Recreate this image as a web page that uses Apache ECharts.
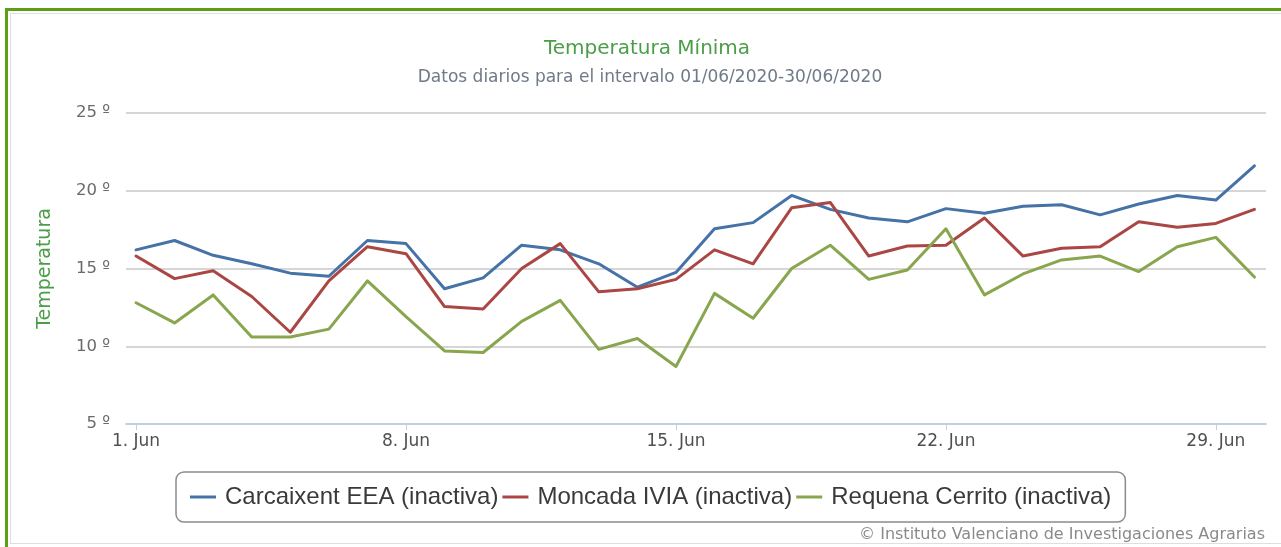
<!DOCTYPE html>
<html>
<head>
<meta charset="utf-8">
<title>Temperatura Mínima</title>
<script src="https://cdn.jsdelivr.net/npm/echarts@6/dist/echarts.min.js"></script>
<style>
    html, body { margin: 0; padding: 0; background: #fff; overflow: hidden; }
    #marco { position: absolute; left: 5px; top: 8px; width: 1320px; height: 600px;
             border-left: 3px solid #5f9e1c; border-top: 3px solid #5f9e1c; }
    #interior { position: absolute; left: 2px; top: 2px; width: 1320px; height: 529px;
                border: 1px solid #dedede; }
    #grafico { position: absolute; left: 0; top: 0; width: 1281px; height: 547px; }
</style>
</head>
<body>
<div id="marco"><div id="interior"></div></div>
<div id="grafico"></div>
<script>
// Dias del mes (junio 2020)
var dias = [1, 2, 3, 4, 5, 6, 7, 8, 9, 10, 11, 12, 13, 14, 15,
            16, 17, 18, 19, 20, 21, 22, 23, 24, 25, 26, 27, 28, 29, 30];
var diasEtiqueta = [1, 8, 15, 22, 29];
var mes = 'Jun';

var estaciones = ['Carcaixent EEA (inactiva)', 'Moncada IVIA (inactiva)', 'Requena Cerrito (inactiva)'];

// Temperatura minima diaria (ºC)
var carcaixent = [16.2, 16.8, 15.85, 15.3, 14.7, 14.5, 16.8, 16.6, 13.7, 14.4, 16.5, 16.2, 15.3, 13.8, 14.75,
                  17.55, 17.95, 19.7, 18.8, 18.25, 18.0, 18.85, 18.55, 19.0, 19.1, 18.45, 19.15, 19.7, 19.4, 21.6];
var moncada    = [15.8, 14.35, 14.85, 13.2, 10.9, 14.2, 16.4, 15.95, 12.55, 12.4, 15.0, 16.6, 13.5, 13.7, 14.3,
                  16.2, 15.3, 18.9, 19.25, 15.8, 16.45, 16.5, 18.25, 15.8, 16.3, 16.4, 18.0, 17.65, 17.9, 18.8];
var requena    = [12.8, 11.5, 13.3, 10.6, 10.6, 11.1, 14.2, 11.9, 9.7, 9.6, 11.6, 12.95, 9.8, 10.5, 8.7,
                  13.4, 11.8, 15.0, 16.5, 14.3, 14.9, 17.55, 13.3, 14.65, 15.55, 15.8, 14.8, 16.4, 17.0, 14.45];

var colores = ['#4572a7', '#aa4643', '#89a54e'];

function pares(valores) {
    return dias.map(function(d, i) { return [d, valores[i]]; });
}

var grafico = echarts.init(document.getElementById('grafico'), null, { renderer: 'canvas' });

grafico.setOption({
    backgroundColor: 'transparent',
    animation: false,
    color: colores,
    graphic: [
        { type: 'text', x: 647, y: 49,
          style: { text: 'Temperatura Mínima', align: 'center', verticalAlign: 'middle',
                   font: '20px "DejaVu Sans"', fill: '#4a9e48' } },
        { type: 'text', x: 650, y: 78,
          style: { text: 'Datos diarios para el intervalo 01/06/2020-30/06/2020', align: 'center', verticalAlign: 'middle',
                   font: '17px "DejaVu Sans"', fill: '#6e7a88' } },
        { type: 'text', x: 1265, y: 535,
          style: { text: '© Instituto Valenciano de Investigaciones Agrarias', align: 'right', verticalAlign: 'middle',
                   font: '16px "DejaVu Sans"', fill: '#8a8a8a' } }
    ],
    grid: { left: 126, right: 15, top: 113, bottom: 123 },
    legend: {
        left: 176, top: 472,
        padding: [13, 14, 13, 14],
        itemGap: 4,
        itemWidth: 26,
        itemHeight: 3,
        icon: 'rect',
        borderColor: '#8c8c8c',
        borderWidth: 1.5,
        borderRadius: 8,
        textStyle: { fontFamily: 'Liberation Sans', fontSize: 24, color: '#3a3a3a', padding: [0, 0, 0, 4] },
        data: estaciones
    },
    xAxis: {
        type: 'value',
        min: 0.74,
        max: 30.3,
        splitLine: { show: false },
        axisLine: { show: true, lineStyle: { color: '#c0d0e0', width: 2 } },
        axisTick: { show: true, length: 6, customValues: diasEtiqueta, lineStyle: { color: '#c0d0e0', width: 1 } },
        axisLabel: {
            customValues: diasEtiqueta,
            margin: 9,
            fontFamily: 'DejaVu Sans', fontSize: 17, color: '#505050',
            formatter: function(v) { return v + '. ' + mes; }
        }
    },
    yAxis: {
        type: 'value',
        min: 5, max: 25, interval: 5,
        name: 'Temperatura',
        nameLocation: 'middle',
        nameGap: 71,
        nameTextStyle: { fontFamily: 'DejaVu Sans', fontSize: 19, color: '#4a9e48' },
        axisLine: { show: false },
        axisTick: { show: false },
        splitLine: { lineStyle: { color: '#c8c8c8', width: 1.5 } },
        axisLabel: {
            margin: 16,
            fontFamily: 'DejaVu Sans', fontSize: 16.5, color: '#6a6a6a',
            formatter: '{value} º'
        }
    },
    series: [
        { name: estaciones[0], type: 'line', data: pares(carcaixent), symbol: 'none',
          lineStyle: { width: 3, cap: 'round', join: 'round' } },
        { name: estaciones[1], type: 'line', data: pares(moncada), symbol: 'none',
          lineStyle: { width: 3, cap: 'round', join: 'round' } },
        { name: estaciones[2], type: 'line', data: pares(requena), symbol: 'none',
          lineStyle: { width: 3, cap: 'round', join: 'round' } }
    ]
});
</script>
</body>
</html>
